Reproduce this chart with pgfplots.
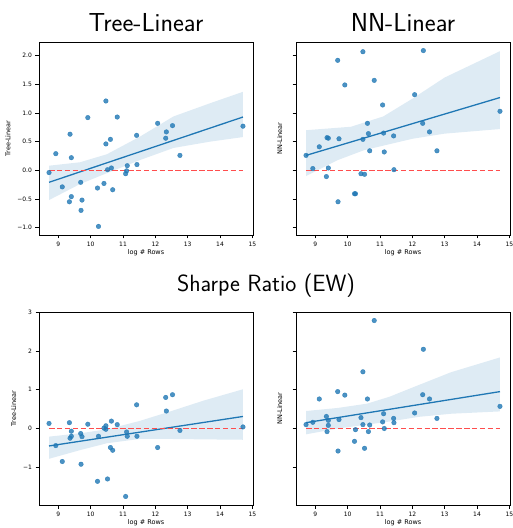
\documentclass[border=0pt]{standalone}
\usepackage{fontspec}
\usepackage{pgfplots}
\usepackage{pgfplotstable}
\pgfplotsset{compat=1.18}
\newfontfamily\dejavu{DejaVu Sans}
\definecolor{sb}{HTML}{1F77B4}
\definecolor{zr}{HTML}{FF4D4D}

% x = log # rows; tl/tr = top panels, bl/br = Sharpe Ratio (EW) panels
\pgfplotstableread{
x     tl     tr     bl     br
8.71  -0.04  0.26   0.13   0.10
8.92  0.29   0.03   -0.44  0.16
9.12  -0.29  0.41   -0.85  0.76
9.34  -0.55  -0.11  0.15   0.31
9.36  0.63   0.57   -0.25  -0.08
9.40  0.22   0.56   -0.07  0.21
9.40  -0.46  0.04   -0.20  0.08
9.69  -0.21  1.92   -0.13  0.95
9.70  -0.70  -0.55  -0.92  -0.58
9.73  -0.52  0.55   -0.21  0.23
9.91  0.92   1.49   0.11   0.86
10.21 -0.31  -0.41  -1.36  -0.33
10.24 -0.98  -0.41  -0.20  -0.03
10.41 -0.23  -0.06  0.01   0.28
10.47 1.21   2.07   0.07   1.46
10.47 0.46   0.54   -0.02  0.10
10.52 0.01   -0.07  -1.30  -0.51
10.61 0.54   0.82   -0.49  0.76
10.64 0.04   0.64   0.19   -0.08
10.68 -0.34  0.34   -0.56  0.09
10.82 0.93   1.57   0.10   2.78
11.08 -0.06  1.14   -1.75  0.17
11.11 -0.01  0.65   -0.09  0.38
11.13 0.08   0.32   -0.20  0.00
11.42 0.61   0.60   0.61   0.26
11.43 0.10   0.01   -0.20  0.15
12.07 0.82   1.32   -0.49  0.40
12.32 0.56   0.82   0.80   0.87
12.34 0.67   2.09   0.45   2.04
12.53 0.78   0.67   0.87   0.76
12.76 0.26   0.34   -0.05  0.26
14.71 0.77   1.03   0.04   0.57
}\pts

\pgfplotsset{
  panel/.style={
    scale only axis, width=214pt, height=193pt,
    xmin=8.40, xmax=15.02, xtick={9,...,15},
    tick align=outside, tick pos=left, major tick length=3.5pt,
    every tick/.style={black, line width=0.6pt},
    axis line style={line width=0.7pt},
    ticklabel style={font=\dejavu\fontsize{6}{7}\selectfont},
    label style={font=\dejavu\fontsize{6.5}{7.5}\selectfont},
    /pgf/number format/assume math mode=true,
    xlabel={log \# Rows},
    xlabel style={at={(axis description cs:0.5,0)}, anchor=north, yshift=-11.5pt},
  },
  pts/.style={only marks, mark=*, mark size=2.3pt,
    mark options={draw=sb, fill=sb, opacity=0.8}},
  band/.style={draw=none, fill=sb, fill opacity=0.15},
  fitline/.style={color=sb, line width=1.3pt},
  zeroline/.style={color=zr, line width=1.2pt, dash pattern=on 5.5pt off 2.4pt},
  topy/.style={ymin=-1.13, ymax=2.24, ytick={-1,-0.5,0,0.5,1,1.5,2}},
  boty/.style={ymin=-1.97, ymax=3.0, ytick={-1,0,1,2,3}},
}

\begin{document}
\begin{tikzpicture}
\path[use as bounding box] (0,0) rectangle (513pt,528pt);

\begin{axis}[panel, topy, at={(39pt,293pt)}, anchor=south west,
  yticklabels={−1.0,−0.5,0.0,0.5,1.0,1.5,2.0}, ylabel={Tree-Linear}]
\addplot[pts] table[x=x, y=tl] {\pts};
\addplot[band] coordinates {(8.71,0.08) (9.67,0.14) (10.5,0.28) (11.53,0.59) (12.56,0.94) (13.69,1.17) (14.71,1.37)
  (14.71,0.58) (13.69,0.50) (12.56,0.39) (11.53,0.18) (10.5,-0.05) (9.67,-0.24) (8.71,-0.52)} -- cycle;
\addplot[fitline] coordinates {(8.71,-0.21) (14.71,0.93)};
\addplot[zeroline] coordinates {(8.71,0) (14.71,0)};
\end{axis}

\begin{axis}[panel, topy, at={(296pt,293pt)}, anchor=south west,
  yticklabels={}, ylabel={NN-Linear}]
\addplot[pts] table[x=x, y=tr] {\pts};
\addplot[band] coordinates {(8.71,0.70) (10.1,0.76) (11.1,0.94) (12.0,1.25) (13.0,1.62) (14.71,2.08)
  (14.71,0.72) (13.0,0.64) (12.0,0.55) (11.1,0.43) (10.5,0.35) (9.7,0.18) (8.71,-0.10)} -- cycle;
\addplot[fitline] coordinates {(8.71,0.26) (14.71,1.27)};
\addplot[zeroline] coordinates {(8.71,0) (14.71,0)};
\end{axis}

\begin{axis}[panel, boty, at={(39pt,23pt)}, anchor=south west,
  yticklabels={−1,0,1,2,3}, ylabel={Tree-Linear}]
\addplot[pts] table[x=x, y=bl] {\pts};
\addplot[band] coordinates {(8.71,-0.21) (9.7,-0.12) (10.5,-0.02) (11.5,0.19) (12.5,0.45) (13.5,0.72) (14.71,1.01)
  (14.71,-0.29) (13.5,-0.28) (12.5,-0.27) (11.5,-0.27) (10.5,-0.38) (9.7,-0.55) (8.71,-0.78)} -- cycle;
\addplot[fitline] coordinates {(8.71,-0.45) (14.71,0.31)};
\addplot[zeroline] coordinates {(8.71,0) (14.71,0)};
\end{axis}

\begin{axis}[panel, boty, at={(296pt,23pt)}, anchor=south west,
  yticklabels={}, ylabel={NN-Linear}]
\addplot[pts] table[x=x, y=br] {\pts};
\addplot[band] coordinates {(8.71,0.45) (9.7,0.53) (10.6,0.64) (11.3,0.82) (12.2,1.12) (13.2,1.45) (14.71,1.83)
  (14.71,0.44) (13.2,0.38) (12.2,0.30) (11.3,0.18) (10.6,0.10) (9.7,0.00) (8.71,-0.15)} -- cycle;
\addplot[fitline] coordinates {(8.71,0.15) (14.71,0.95)};
\addplot[zeroline] coordinates {(8.71,0) (14.71,0)};
\end{axis}

\node[anchor=base, font=\sffamily\fontsize{26}{30}\selectfont] at (146pt,496pt) {Tree-Linear};
\node[anchor=base, font=\sffamily\fontsize{26}{30}\selectfont] at (403pt,496pt) {NN-Linear};
\node[anchor=base, font=\sffamily\fontsize{23.5}{28}\selectfont] at (266pt,236pt) {Sharpe Ratio (EW)};
\end{tikzpicture}
\end{document}
